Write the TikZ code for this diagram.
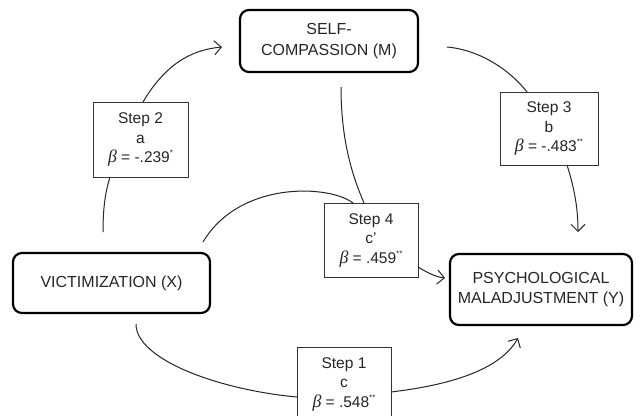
\documentclass[tikz,border=0pt]{standalone}
\usepackage{fontspec}
\setmainfont{Liberation Sans}
\newfontfamily\grkfont{Liberation Serif}[Scale=1.15]
\usetikzlibrary{arrows.meta}
\newcommand{\bta}{{\grkfont\itshape β}}
\newcommand{\stars}[1]{\raisebox{0.45em}{\fontsize{8}{8}\selectfont #1}}
\begin{document}
\begin{tikzpicture}[x=1pt,y=-1pt,
  mainbox/.style={draw, line width=2.2pt, rounded corners=9pt, align=center, inner sep=0pt,
    font=\fontsize{16}{20.5}\selectfont, text=black!85},
  stepbox/.style={draw, line width=0.8pt, draw=black!80, fill=white, align=center, inner sep=0pt,
    font=\fontsize{15.5}{19.5}\selectfont, text=black!85},
  conn/.style={line width=1pt, black!85},
  arr/.style={conn, -{Straight Barb[length=7pt,width=14pt,line width=1pt]}}]
\useasboundingbox (0,0) rectangle (642,415);
\fill[white] (0,0) rectangle (642,415);

% main boxes
\node[mainbox, minimum width=178pt, minimum height=62pt] (M) at (329,41) {SELF-\\COMPASSION (M)};
\node[mainbox, minimum width=197pt, minimum height=60pt] (X) at (111.5,283) {VICTIMIZATION (X)};
\node[mainbox, minimum width=182pt, minimum height=71pt] (Y) at (541,289.5) {PSYCHOLOGICAL\\MALADJUSTMENT (Y)};

% step boxes
\node[stepbox, minimum width=95pt, minimum height=75pt] (S2) at (140.5,139.5) {Step 2\\a\\\bta{} = -.239\stars{*}};
\node[stepbox, minimum width=98pt, minimum height=73pt] (S3) at (549,128.5) {Step 3\\b\\\bta{} = -.483\stars{**}};
\node[stepbox, minimum width=94pt, minimum height=74pt] (S4) at (371,240) {Step 4\\c'\\\bta{} = .459\stars{**}};
\node[stepbox, minimum width=94pt, minimum height=74pt] (S1) at (344,384) {Step 1\\c\\\bta{} = .548\stars{**}};

% connector end points
\coordinate (x2) at (103,232);
\coordinate (s2b) at (110,177);
\coordinate (s2t) at (143,102);
\coordinate (m2) at (222,47);
\coordinate (m3) at (447,47);
\coordinate (s3t) at (527,92);
\coordinate (s3b) at (567,165);
\coordinate (y3) at (578,232);
\coordinate (m4) at (341,87);
\coordinate (s4m) at (364,203);
\coordinate (x4) at (203,242);
\coordinate (s4x) at (353,203);
\coordinate (s4r) at (418,267);
\coordinate (y4) at (445,278);
\coordinate (x1) at (136,324);
\coordinate (s1l) at (297,397);
\coordinate (s1r) at (391,392);
\coordinate (y1) at (518,338);

% step 2 : a
\draw[conn] (x2) .. controls (103,205) and (106,190) .. (s2b);
\draw[arr] (s2t) .. controls (165,65) and (190,50) .. (m2);
% step 3 : b
\draw[conn] (m3) .. controls (480,50) and (510,70) .. (s3t);
\draw[arr] (s3b) .. controls (575,190) and (578,210) .. (y3);
% step 4 : c'
\draw[conn] (m4) .. controls (341,140) and (352,175) .. (s4m);
\draw[conn] (x4) .. controls (240,180) and (330,185) .. (s4x);
\draw[arr] (s4r) .. controls (428,273) and (436,277) .. (y4);
% step 1 : c
\draw[conn] (x1) .. controls (136,360) and (220,390) .. (s1l);
\draw[arr] (s1r) .. controls (450,385) and (500,370) .. (y1);
\end{tikzpicture}
\end{document}
